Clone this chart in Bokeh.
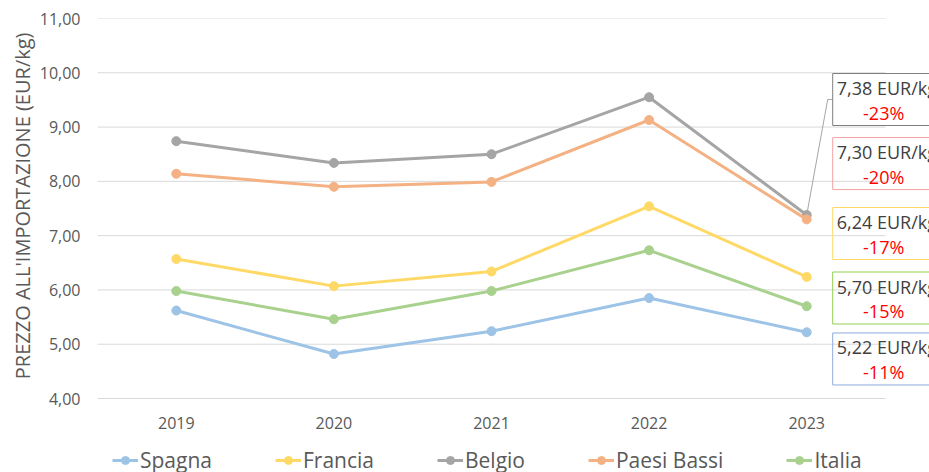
from bokeh.plotting import figure
from bokeh.models import (Range1d, FixedTicker, CustomJSTickFormatter, Legend,
                          LegendItem, Title)
from bokeh.core.properties import value
from bokeh.embed import file_html
from bokeh.resources import INLINE

# ---------------- data ----------------
years = [2019, 2020, 2021, 2022, 2023]
spagna = [5.62, 4.82, 5.24, 5.85, 5.22]
francia = [6.57, 6.07, 6.34, 7.54, 6.24]
belgio = [8.74, 8.34, 8.50, 9.55, 7.38]
paesi_bassi = [8.14, 7.90, 7.99, 9.13, 7.30]
italia = [5.98, 5.46, 5.98, 6.73, 5.70]
series_names = ["Spagna", "Francia", "Belgio", "Paesi Bassi", "Italia"]
change_labels = ["-11%", "-17%", "-23%", "-20%", "-15%"]
y_ticks = [4, 5, 6, 7, 8, 9, 10, 11]
y_title = "PREZZO ALL'IMPORTAZIONE (EUR/kg)"

series = [spagna, francia, belgio, paesi_bassi, italia]

# ---------------- style ----------------
FONT = "Open Sans"
line_colors = ["#9dc3e6", "#ffd966", "#a5a5a5", "#f4b183", "#a9d18e"]
box_colors = ["#8faadc", "#ffd966", "#7f7f7f", "#f3a3a3", "#92d050"]
TEXT = "#595959"
GRID = "#d9d9d9"

FRAME_W = 832
PLOT_H = 380          # px of the value band (4..11)
BELOW_H = 74          # px below the value band for tick labels and legend
BAND_PX = 788         # px spanned by the five category bands
x0 = years[0] - 0.5
x1 = years[-1] + 0.5
ppx = BAND_PX / (x1 - x0)
x_end = x0 + FRAME_W / ppx
ppy = PLOT_H / (y_ticks[-1] - y_ticks[0])
y_start = y_ticks[0] - BELOW_H / ppy

p = figure(frame_width=FRAME_W, frame_height=PLOT_H + BELOW_H,
           x_range=Range1d(x0, x_end), y_range=Range1d(y_start, y_ticks[-1]),
           output_backend="svg", toolbar_location=None,
           min_border_left=97, min_border_right=0, min_border_top=18,
           min_border_bottom=0, background_fill_color="white",
           border_fill_color="white")
p.outline_line_color = None
p.xgrid.visible = False
p.ygrid.visible = False

# axes
p.xaxis.ticker = FixedTicker(ticks=years)
p.xaxis.formatter = CustomJSTickFormatter(code="return tick.toFixed(0)")
p.xaxis.fixed_location = y_ticks[0]
p.yaxis.ticker = FixedTicker(ticks=y_ticks)
p.yaxis.formatter = CustomJSTickFormatter(code="return tick.toFixed(2).replace('.', ',')")
for ax in (p.xaxis[0], p.yaxis[0]):
    ax.axis_line_color = None
    ax.major_tick_line_color = None
    ax.minor_tick_line_color = None
    ax.major_tick_out = 0
    ax.major_tick_in = 0
    ax.minor_tick_out = 0
    ax.minor_tick_in = 0
    ax.major_label_text_font = FONT
    ax.major_label_text_font_size = "16px"
    ax.major_label_text_color = TEXT
p.xaxis.major_label_standoff = 18
p.yaxis.major_label_standoff = 17

# y title aligned with the value band (frame extends below it)
p.add_layout(Title(text=y_title, align="right", offset=14, standoff=2,
                   text_font=FONT, text_font_size="20px", text_font_style="normal",
                   text_color=TEXT), "left")

# grid lines limited to the category bands
p.segment(x0=[x0] * len(y_ticks), x1=[x1] * len(y_ticks), y0=y_ticks, y1=y_ticks,
          line_color=GRID, line_width=1)

# call-out layout
label_shift_px = [-26.7, 43.4, 115.5, 55.8, 8.2]
BOX_GAP, BOX_W, BOX_H = 26, 112, 52
last_x = years[-1]

# leader line for Belgio
bi = series_names.index("Belgio")
bv = series[bi][-1]
by = bv + label_shift_px[bi] / ppy
p.line(x=[last_x, last_x + (BOX_GAP - 5) / ppx, last_x + BOX_GAP / ppx],
       y=[bv, by, by], line_color="#a6a6a6", line_width=1)

items = []
for name, s, c in zip(series_names, series, line_colors):
    lr = p.line(years, s, line_color=c, line_width=3)
    sr = p.scatter(years, s, size=9, fill_color=c, line_color=c)
    items.append(LegendItem(label=value(name), renderers=[lr, sr]))

for i, s in enumerate(series):
    v = s[-1]
    cy = v + label_shift_px[i] / ppy
    p.rect(x=[last_x + (BOX_GAP + BOX_W / 2) / ppx], y=[cy], width=BOX_W, height=BOX_H,
           width_units="screen", height_units="screen", fill_color=None,
           line_color=box_colors[i], line_width=1)
    txt = f"{v:.2f}".replace(".", ",") + " EUR/kg"
    p.text(x=[last_x + (BOX_GAP + 4) / ppx], y=[cy + 11.5 / ppy], text=[txt],
           text_font=value(FONT), text_font_size="18px", text_color="#404040",
           text_align="left", text_baseline="middle")
    p.text(x=[last_x + (BOX_GAP + 51) / ppx], y=[cy - 13 / ppy], text=[change_labels[i]],
           text_font=value(FONT), text_font_size="18px", text_color="#ff0000",
           text_align="center", text_baseline="middle")

legend = Legend(items=items, orientation="horizontal", location=(15, -2),
                spacing=63, glyph_width=26, glyph_height=20, label_standoff=2,
                padding=0, margin=0, border_line_color=None,
                background_fill_alpha=0, label_text_font=FONT,
                label_text_font_size="21px", label_text_color=TEXT)
p.add_layout(legend, "center")

open("out.html", "w").write(file_html(p, INLINE))
